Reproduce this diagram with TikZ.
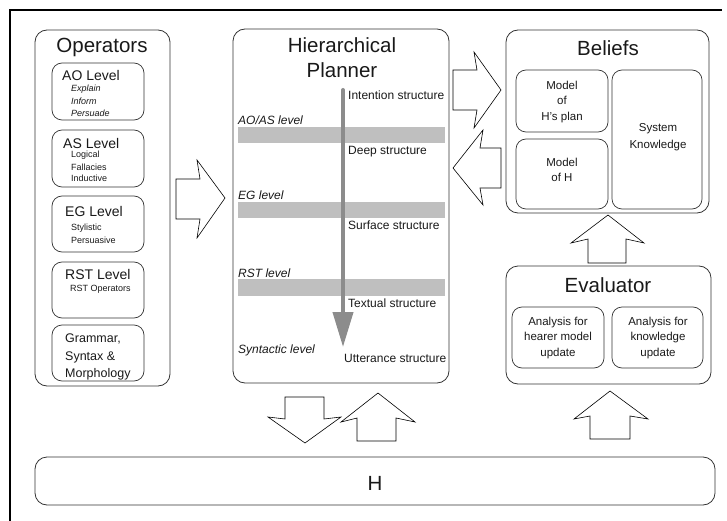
\documentclass[tikz,border=0pt]{standalone}
\usepackage{fontspec}
\setmainfont{Liberation Sans}
\usepackage{tikz}
\usetikzlibrary{arrows.meta}

\tikzset{
	panel/.style={draw=black!80, line width=0.8pt, rounded corners=12pt, inner sep=0pt},
	subpanel/.style={draw=black!80, line width=0.7pt, rounded corners=10pt, inner sep=0pt},
	heading/.style={font=\fontsize{20.5}{24}\selectfont, text=black!90, inner sep=0pt},
	levelhead/.style={font=\fontsize{14}{16}\selectfont, text=black!90, anchor=west, inner sep=0pt},
	item/.style={font=\fontsize{9}{11}\selectfont, text=black!90, anchor=west, inner sep=0pt},
	body/.style={font=\fontsize{11.5}{15.5}\selectfont, text=black!90, align=center, inner sep=0pt},
	levelname/.style={font=\fontsize{12}{14}\selectfont\itshape, text=black!90, anchor=west, inner sep=0pt},
	structname/.style={font=\fontsize{12}{14}\selectfont, text=black!90, anchor=west, inner sep=0pt},
	levelbar/.style={fill=black!25, draw=none},
	blockarrow/.style={draw=black, line width=0.6pt, fill=white, line join=miter},
}

\begin{document}
\begin{tikzpicture}[x=1pt, y=-1pt]
	%%%%% START %%%%%
	\useasboundingbox (0,0) rectangle (727,521);
	
	\draw[line width=2pt] (10,521) -- (10,10) -- (722,10);
	
	% operators
	\node[panel, minimum width=135pt, minimum height=356pt] (operators) at (102.5,208) {};
	\node[heading] (opstitle) at (102,47) {Operators};
	
	\node[subpanel, minimum width=92pt, minimum height=57pt] (aolevel) at (98,91.5) {};
	\node[levelhead] (aohead) at (62,75) {AO Level};
	\node[item, font=\fontsize{9}{11}\selectfont\itshape] (explain) at (71,89) {Explain};
	\node[item, font=\fontsize{9}{11}\selectfont\itshape] (inform) at (71,101) {Inform};
	\node[item, font=\fontsize{9}{11}\selectfont\itshape] (persuade) at (71,113) {Persuade};
	
	\node[subpanel, minimum width=92pt, minimum height=57pt] (aslevel) at (98,158.5) {};
	\node[levelhead] (ashead) at (63,143) {AS Level};
	\node[item] (logical) at (71,155) {Logical};
	\node[item] (fallacies) at (71,167) {Fallacies};
	\node[item] (inductive) at (71,178) {Inductive};
	
	\node[subpanel, minimum width=92pt, minimum height=56pt] (eglevel) at (98,224) {};
	\node[levelhead] (eghead) at (65,211) {EG Level};
	\node[item] (stylistic) at (71,228) {Stylistic};
	\node[item] (persuasive) at (71,240) {Persuasive};
	
	\node[subpanel, minimum width=92pt, minimum height=56pt] (rstlevel) at (98,290) {};
	\node[levelhead] (rsthead) at (65,274) {RST Level};
	\node[item] (rstops) at (70,289) {RST Operators};
	
	\node[subpanel, minimum width=92pt, minimum height=56pt] (grammar) at (98,353) {};
	\node[levelhead, font=\fontsize{12.5}{17.5}\selectfont, align=left] (gramtext) at (65,357) {Grammar,\\Syntax \&\\Morphology};
	
	% planner
	\node[panel, minimum width=216pt, minimum height=354pt] (planner) at (341,206) {};
	\node[heading] (plantitle1) at (342,45) {Hierarchical};
	\node[heading] (plantitle2) at (342,70) {Planner};
	
	\fill[levelbar] (238,127) rectangle (445,143);
	\fill[levelbar] (238,202) rectangle (445,218);
	\fill[levelbar] (238,279) rectangle (445,296);
	
	\node[levelname] (aoas) at (238,120) {AO/AS level};
	\node[levelname] (eg) at (238,195) {EG level};
	\node[levelname] (rst) at (238,273) {RST level};
	\node[levelname] (syntactic) at (238,350) {Syntactic level};
	
	\draw[line width=4pt, black!45, line cap=round, -{Triangle[length=35pt,width=20pt]}] (343,90) -- (343,347);
	
	\node[structname] (intention) at (348,95) {Intention structure};
	\node[structname] (deep) at (348,152) {Deep structure};
	\node[structname] (surface) at (348,225) {Surface structure};
	\node[structname] (textual) at (348,303) {Textual structure};
	\node[structname] (utterance) at (344,358) {Utterance structure};
	
	% beliefs
	\node[panel, minimum width=203pt, minimum height=183pt] (beliefs) at (607.5,121.5) {};
	\node[heading] (beltitle) at (608,48) {Beliefs};
	\node[subpanel, minimum width=92pt, minimum height=62pt] (hplan) at (562,101) {};
	\node[body] (hplantext) at (562,102) {Model\\of\\H's plan};
	\node[subpanel, minimum width=92pt, minimum height=70pt] (hmodel) at (562,174) {};
	\node[body] (hmodeltext) at (562,170) {Model\\of H};
	\node[subpanel, minimum width=90pt, minimum height=139pt] (sysknow) at (657,139.5) {};
	\node[body, font=\fontsize{11.5}{17}\selectfont] (sysknowtext) at (658,137) {System\\Knowledge};
	
	% evaluator
	\node[panel, minimum width=205pt, minimum height=118pt] (evaluator) at (608.5,325) {};
	\node[heading] (evaltitle) at (608,285) {Evaluator};
	\node[subpanel, minimum width=92pt, minimum height=61pt] (hearer) at (558,337.5) {};
	\node[body] (hearertext) at (558,338) {Analysis for\\hearer model\\update};
	\node[subpanel, minimum width=91pt, minimum height=61pt] (knowledge) at (657.5,337.5) {};
	\node[body] (knowledgetext) at (658,338) {Analysis for\\knowledge\\update};
	
	% hearer
	\node[panel, minimum width=680pt, minimum height=48pt] (hearerbar) at (375,481) {};
	\node[heading] (htext) at (375,483) {H};
	
	% block arrows
	\draw[blockarrow] (176,179) -- (200,179) -- (197,160) -- (225,198) -- (197,238) -- (200,219) -- (176,219) -- cycle;
	\draw[blockarrow] (453,70) -- (477,70) -- (474,52) -- (501,90) -- (474,128) -- (477,110) -- (453,110) -- cycle;
	\draw[blockarrow] (501,148) -- (480,148) -- (483,130) -- (453,168) -- (483,205) -- (480,188) -- (501,188) -- cycle;
	\draw[blockarrow] (588,263) -- (588,239) -- (571,243) -- (608,215) -- (644,243) -- (626,239) -- (626,263) -- cycle;
	
	\draw[blockarrow] (285,397) -- (324,397) -- (324,419) -- (341,417) -- (305,443) -- (268,417) -- (285,419) -- cycle;
	\draw[blockarrow] (357,441) -- (357,418) -- (341,422) -- (378,393) -- (415,422) -- (396,418) -- (396,441) -- cycle;
	\draw[blockarrow] (590,439) -- (590,416) -- (574,419) -- (610,391) -- (648,419) -- (630,416) -- (630,439) -- cycle;
	
	%%%%% END %%%%%
\end{tikzpicture}
\end{document}
